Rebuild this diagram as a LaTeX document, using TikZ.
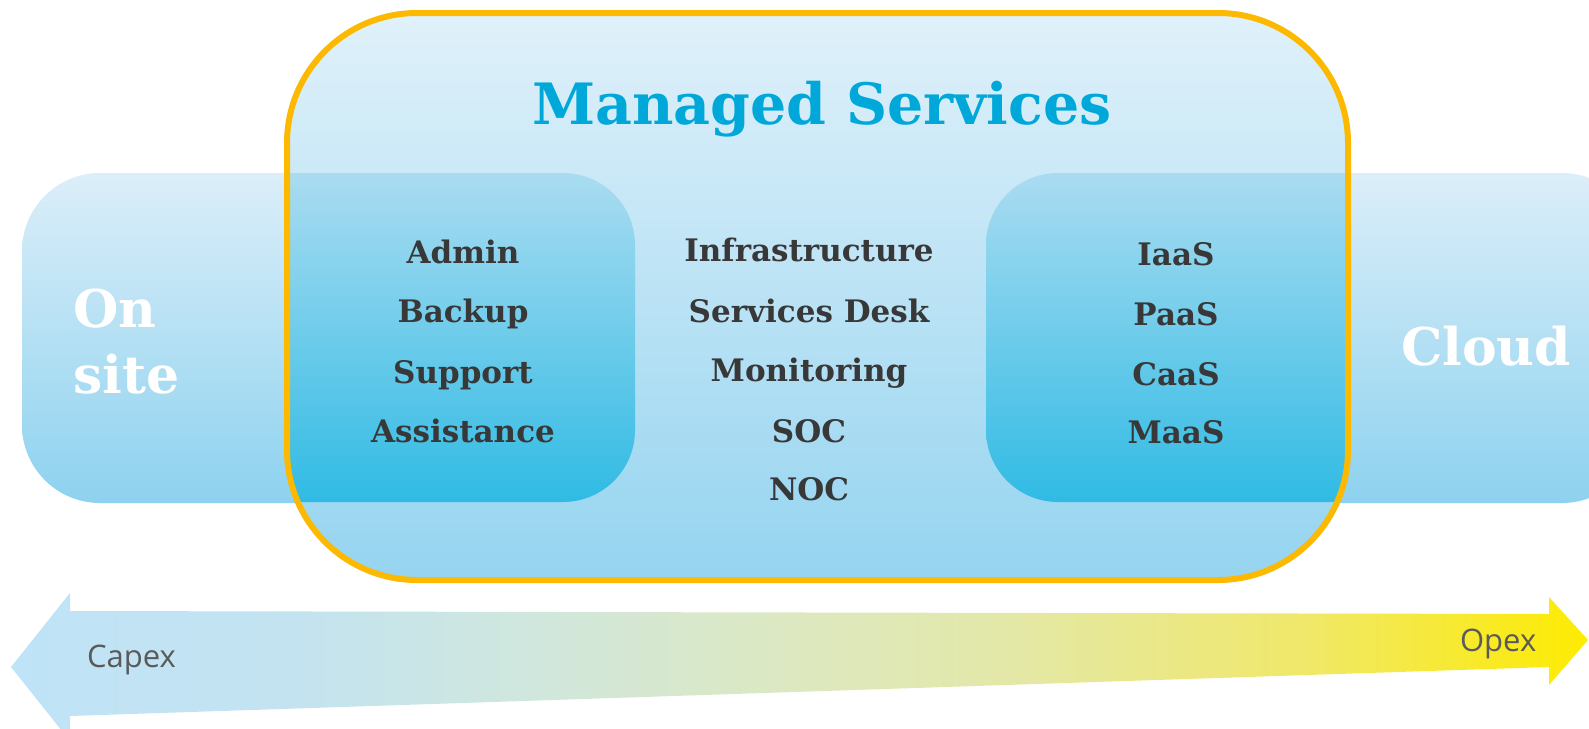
\documentclass[tikz,border=0pt]{standalone}
\usepackage{fontspec}
\setmainfont{DejaVu Serif}
\newfontfamily\arrowfont{Open Sans}
\definecolor{bandtop}{HTML}{DCEEF9}
\definecolor{bandbot}{HTML}{8DD2EF}
\definecolor{mstop}{HTML}{E0F1FA}
\definecolor{msbot}{HTML}{95D4F0}
\definecolor{innertop}{HTML}{AADCF1}
\definecolor{innerbot}{HTML}{30BBE4}
\definecolor{msorange}{HTML}{FCB900}
\definecolor{mstitle}{HTML}{00A8DA}
\definecolor{itemgray}{HTML}{383838}
\definecolor{arrowgray}{HTML}{5A5A5A}
% the path box of a shading covers 25bp..75bp
\pgfdeclarehorizontalshading{capexopex}{100bp}{%
  color(0bp)=(rgb,255:red,191;green,227;blue,247);
  color(25bp)=(rgb,255:red,191;green,227;blue,247);
  color(34bp)=(rgb,255:red,195;green,227;blue,240);
  color(41.5bp)=(rgb,255:red,208;green,231;blue,221);
  color(50bp)=(rgb,255:red,221;green,232;blue,192);
  color(56.5bp)=(rgb,255:red,227;green,232;blue,168);
  color(66bp)=(rgb,255:red,240;green,232;blue,106);
  color(75bp)=(rgb,255:red,253;green,235;blue,0);
  color(100bp)=(rgb,255:red,253;green,235;blue,0)}

\begin{document}
\begin{tikzpicture}[x=0.5pt,y=-0.5pt,
  item/.style={anchor=base,text=itemgray,font=\bfseries\fontsize{15.5}{18}\selectfont},
  side/.style={anchor=base west,text=white,font=\bfseries\fontsize{26}{30}\selectfont},
  axis label/.style={anchor=base west,text=arrowgray,font=\arrowfont\fontsize{15.5}{18}\selectfont}]
\useasboundingbox (0,0) rectangle (1589,728);
% band behind everything
\shade[rounded corners=39pt, top color=bandtop, bottom color=bandbot] (22,173) rectangle (1640,503);
% capex -> opex arrow
\shade[shading=capexopex]
  (11,667) -- (70,593) -- (70,611) -- (1549,614) -- (1549,597) -- (1588,640)
  -- (1549,685) -- (1549,667) -- (70,716) -- (70,741) -- cycle;
% managed services box
\shade[rounded corners=65pt, top color=mstop, bottom color=msbot] (287,13) rectangle (1348,580);
\begin{scope}
\clip[rounded corners=65pt] (287,13) rectangle (1348,580);
\shade[rounded corners=36pt, top color=innertop, bottom color=innerbot] (200,173) rectangle (635,502);
\shade[rounded corners=36pt, top color=innertop, bottom color=innerbot] (986,173) rectangle (1440,502);
\end{scope}
\draw[msorange, line width=3pt, rounded corners=65pt] (287,13) rectangle (1348,580);

\node[anchor=base, text=mstitle, font=\bfseries\fontsize{28.5}{34}\selectfont] (title) at (822,124) {Managed Services};

\node[side] (on) at (66,327) {On};
\node[side] (site) at (66,393) {site};
\node[side] (cloud) at (1394,365) {Cloud};

\node[item] (admin) at (463,263) {Admin};
\node[item] (backup) at (463,322) {Backup};
\node[item] (support) at (463,383) {Support};
\node[item] (assist) at (463,442) {Assistance};

\node[item] (infra) at (809,261) {Infrastructure};
\node[item] (desk) at (809,322) {Services Desk};
\node[item] (monit) at (809,381) {Monitoring};
\node[item] (soc) at (809,442) {SOC};
\node[item] (noc) at (809,500) {NOC};

\node[item] (iaas) at (1176,265) {IaaS};
\node[item] (paas) at (1176,325) {PaaS};
\node[item] (caas) at (1176,385) {CaaS};
\node[item] (maas) at (1176,443) {MaaS};

\node[axis label] (capex) at (80,667) {Capex};
\node[axis label] (opex) at (1453,651) {Opex};
\end{tikzpicture}
\end{document}
